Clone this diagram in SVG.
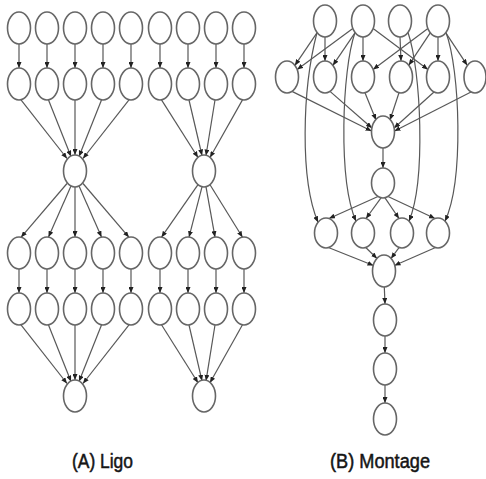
<svg xmlns="http://www.w3.org/2000/svg" width="486" height="479" viewBox="0 0 486 479">
  <style>
    .n { fill: #ffffff; stroke: #666666; stroke-width: 1.6; }
    .e { fill: none; stroke: #585858; stroke-width: 1.2; marker-end: url(#arrow); }
    .lbl { font-family: "Liberation Sans", Arial, sans-serif; font-size: 20px; fill: #151515; stroke: #151515; stroke-width: 0.5; }
  </style>
  <defs>
    <marker id="arrow" viewBox="0 0 6 5" refX="6" refY="2.5" markerWidth="6" markerHeight="5" markerUnits="userSpaceOnUse" orient="auto">
      <path d="M0,0 L6,2.5 L0,5 z" fill="#222222"/>
    </marker>
  </defs>
  <rect width="486" height="479" fill="#ffffff"/>

  <!-- connectors -->
  <g id="edges">
    <!-- Ligo, left pipeline -->
    <path class="e" d="M19,44 L19,68"/>
    <path class="e" d="M47,44 L47,68"/>
    <path class="e" d="M75,44 L75,68"/>
    <path class="e" d="M103,44 L103,68"/>
    <path class="e" d="M131,44 L131,68"/>
    <path class="e" d="M21,99.8 L67,158.5"/>
    <path class="e" d="M48.5,100 L71,156.5"/>
    <path class="e" d="M75,100 L75,155"/>
    <path class="e" d="M101.5,100 L79,156.5"/>
    <path class="e" d="M129,99.8 L83,158.5"/>
    <path class="e" d="M67,183.5 L21,237.3"/>
    <path class="e" d="M71,186 L48.5,237.1"/>
    <path class="e" d="M75,187 L75,237"/>
    <path class="e" d="M79,186 L101.5,237.1"/>
    <path class="e" d="M83,183.5 L129,237.3"/>
    <path class="e" d="M19,269 L19,293"/>
    <path class="e" d="M47,269 L47,293"/>
    <path class="e" d="M75,269 L75,293"/>
    <path class="e" d="M103,269 L103,293"/>
    <path class="e" d="M131,269 L131,293"/>
    <path class="e" d="M21,324.8 L67,383.5"/>
    <path class="e" d="M48.5,325 L71,381.5"/>
    <path class="e" d="M75,325 L75,380"/>
    <path class="e" d="M101.5,325 L79,381.5"/>
    <path class="e" d="M129,324.8 L83,383.5"/>
    <!-- Ligo, right pipeline -->
    <path class="e" d="M160,44 L160,68"/>
    <path class="e" d="M188,44 L188,68"/>
    <path class="e" d="M216,44 L216,68"/>
    <path class="e" d="M244,44 L244,68"/>
    <path class="e" d="M161.5,99.9 L198,157.5"/>
    <path class="e" d="M189,100 L202,155.5"/>
    <path class="e" d="M215,100 L206,155.5"/>
    <path class="e" d="M242.5,99.9 L210,157.5"/>
    <path class="e" d="M198,184.7 L161.5,237.2"/>
    <path class="e" d="M202,186.8 L189,237.1"/>
    <path class="e" d="M206,186.8 L215,237.1"/>
    <path class="e" d="M210,184.7 L242.5,237.2"/>
    <path class="e" d="M160,269 L160,293"/>
    <path class="e" d="M188,269 L188,293"/>
    <path class="e" d="M216,269 L216,293"/>
    <path class="e" d="M244,269 L244,293"/>
    <path class="e" d="M161.5,324.8 L198,382.7"/>
    <path class="e" d="M189,325 L202,380.8"/>
    <path class="e" d="M215,325 L206,380.8"/>
    <path class="e" d="M242.5,324.8 L210,382.7"/>

    <!-- Montage: projections to difference fits -->
    <path class="e" d="M317.1,32.6 L294.9,65.4"/>
    <path class="e" d="M352.8,28.5 L297.2,69.5"/>
    <path class="e" d="M325,37 L325,61"/>
    <path class="e" d="M355.1,32.6 L332.9,65.4"/>
    <path class="e" d="M363,37 L363,61"/>
    <path class="e" d="M427.9,28.6 L373.1,69.4"/>
    <path class="e" d="M400,37 L401,61"/>
    <path class="e" d="M430.2,32.8 L408.8,65.2"/>
    <path class="e" d="M373.1,28.6 L427.9,69.4"/>
    <path class="e" d="M438,37 L438,61"/>
    <path class="e" d="M445.8,32.8 L467.2,65.2"/>
    <!-- Montage: projections to background correction -->
    <path class="e" d="M317,32.5 C302,90 300,180 318,222.3"/>
    <path class="e" d="M355,32.5 C342,70 338,180 356,221.2"/>
    <path class="e" d="M408,32.5 C421,70 426,180 409,221.2"/>
    <path class="e" d="M446,32.5 C460,70 464,180 445,221.2"/>
    <!-- Montage: difference fits to concat -->
    <path class="e" d="M292,91.4 L371.5,131"/>
    <path class="e" d="M330,91.4 L371.9,128"/>
    <path class="e" d="M365,92.8 L376,120"/>
    <path class="e" d="M399,92.8 L390,120"/>
    <path class="e" d="M434,92 L394.1,128"/>
    <path class="e" d="M471,92 L394.5,131"/>
    <!-- Montage: concat, model, backgrounds -->
    <path class="e" d="M383,148 L383,168"/>
    <path class="e" d="M378,196.5 L329,218.5"/>
    <path class="e" d="M381,197.8 L366,218.5"/>
    <path class="e" d="M385,197.8 L399,218.5"/>
    <path class="e" d="M388,196.5 L435,218.5"/>
    <path class="e" d="M329,247.7 L373.5,265.5"/>
    <path class="e" d="M366,247.7 L377,258.5"/>
    <path class="e" d="M399,247.7 L391,258.5"/>
    <path class="e" d="M435,247.7 L394.5,265.5"/>
    <!-- Montage: final chain -->
    <path class="e" d="M384.3,287 L385,304"/>
    <path class="e" d="M385,336 L385,353"/>
    <path class="e" d="M385,385 L385,403"/>
  </g>

  <!-- Ligo nodes -->
  <g id="ligo-a1"><ellipse class="n" cx="19" cy="28" rx="11.5" ry="16"/></g>
  <g id="ligo-a2"><ellipse class="n" cx="47" cy="28" rx="11.5" ry="16"/></g>
  <g id="ligo-a3"><ellipse class="n" cx="75" cy="28" rx="11.5" ry="16"/></g>
  <g id="ligo-a4"><ellipse class="n" cx="103" cy="28" rx="11.5" ry="16"/></g>
  <g id="ligo-a5"><ellipse class="n" cx="131" cy="28" rx="11.5" ry="16"/></g>
  <g id="ligo-a6"><ellipse class="n" cx="160" cy="28" rx="11.5" ry="16"/></g>
  <g id="ligo-a7"><ellipse class="n" cx="188" cy="28" rx="11.5" ry="16"/></g>
  <g id="ligo-a8"><ellipse class="n" cx="216" cy="28" rx="11.5" ry="16"/></g>
  <g id="ligo-a9"><ellipse class="n" cx="244" cy="28" rx="11.5" ry="16"/></g>

  <g id="ligo-b1"><ellipse class="n" cx="19" cy="84" rx="11.5" ry="16"/></g>
  <g id="ligo-b2"><ellipse class="n" cx="47" cy="84" rx="11.5" ry="16"/></g>
  <g id="ligo-b3"><ellipse class="n" cx="75" cy="84" rx="11.5" ry="16"/></g>
  <g id="ligo-b4"><ellipse class="n" cx="103" cy="84" rx="11.5" ry="16"/></g>
  <g id="ligo-b5"><ellipse class="n" cx="131" cy="84" rx="11.5" ry="16"/></g>
  <g id="ligo-b6"><ellipse class="n" cx="160" cy="84" rx="11.5" ry="16"/></g>
  <g id="ligo-b7"><ellipse class="n" cx="188" cy="84" rx="11.5" ry="16"/></g>
  <g id="ligo-b8"><ellipse class="n" cx="216" cy="84" rx="11.5" ry="16"/></g>
  <g id="ligo-b9"><ellipse class="n" cx="244" cy="84" rx="11.5" ry="16"/></g>

  <g id="ligo-mid1"><ellipse class="n" cx="75" cy="171" rx="11.5" ry="16"/></g>
  <g id="ligo-mid2"><ellipse class="n" cx="204" cy="171" rx="11.5" ry="16"/></g>

  <g id="ligo-c1"><ellipse class="n" cx="19" cy="253" rx="11.5" ry="16"/></g>
  <g id="ligo-c2"><ellipse class="n" cx="47" cy="253" rx="11.5" ry="16"/></g>
  <g id="ligo-c3"><ellipse class="n" cx="75" cy="253" rx="11.5" ry="16"/></g>
  <g id="ligo-c4"><ellipse class="n" cx="103" cy="253" rx="11.5" ry="16"/></g>
  <g id="ligo-c5"><ellipse class="n" cx="131" cy="253" rx="11.5" ry="16"/></g>
  <g id="ligo-c6"><ellipse class="n" cx="160" cy="253" rx="11.5" ry="16"/></g>
  <g id="ligo-c7"><ellipse class="n" cx="188" cy="253" rx="11.5" ry="16"/></g>
  <g id="ligo-c8"><ellipse class="n" cx="216" cy="253" rx="11.5" ry="16"/></g>
  <g id="ligo-c9"><ellipse class="n" cx="244" cy="253" rx="11.5" ry="16"/></g>

  <g id="ligo-d1"><ellipse class="n" cx="19" cy="309" rx="11.5" ry="16"/></g>
  <g id="ligo-d2"><ellipse class="n" cx="47" cy="309" rx="11.5" ry="16"/></g>
  <g id="ligo-d3"><ellipse class="n" cx="75" cy="309" rx="11.5" ry="16"/></g>
  <g id="ligo-d4"><ellipse class="n" cx="103" cy="309" rx="11.5" ry="16"/></g>
  <g id="ligo-d5"><ellipse class="n" cx="131" cy="309" rx="11.5" ry="16"/></g>
  <g id="ligo-d6"><ellipse class="n" cx="160" cy="309" rx="11.5" ry="16"/></g>
  <g id="ligo-d7"><ellipse class="n" cx="188" cy="309" rx="11.5" ry="16"/></g>
  <g id="ligo-d8"><ellipse class="n" cx="216" cy="309" rx="11.5" ry="16"/></g>
  <g id="ligo-d9"><ellipse class="n" cx="244" cy="309" rx="11.5" ry="16"/></g>

  <g id="ligo-end1"><ellipse class="n" cx="75" cy="396" rx="11.5" ry="16"/></g>
  <g id="ligo-end2"><ellipse class="n" cx="204" cy="396" rx="11.5" ry="16"/></g>

  <!-- Montage nodes -->
  <g id="mproject1"><ellipse class="n" cx="325" cy="21" rx="11.5" ry="16"/></g>
  <g id="mproject2"><ellipse class="n" cx="363" cy="21" rx="11.5" ry="16"/></g>
  <g id="mproject3"><ellipse class="n" cx="400" cy="21" rx="11.5" ry="16"/></g>
  <g id="mproject4"><ellipse class="n" cx="438" cy="21" rx="11.5" ry="16"/></g>

  <g id="mdiff1"><ellipse class="n" cx="287" cy="77" rx="11.5" ry="16"/></g>
  <g id="mdiff2"><ellipse class="n" cx="325" cy="77" rx="11.5" ry="16"/></g>
  <g id="mdiff3"><ellipse class="n" cx="363" cy="77" rx="11.5" ry="16"/></g>
  <g id="mdiff4"><ellipse class="n" cx="401" cy="77" rx="11.5" ry="16"/></g>
  <g id="mdiff5"><ellipse class="n" cx="438" cy="77" rx="11.5" ry="16"/></g>
  <g id="mdiff6"><ellipse class="n" cx="475" cy="77" rx="11" ry="16"/></g>

  <g id="mconcat"><ellipse class="n" cx="383" cy="132" rx="11.5" ry="16"/></g>
  <g id="mbgmodel"><ellipse class="n" cx="383" cy="183" rx="11.5" ry="15"/></g>

  <g id="mbackground1"><ellipse class="n" cx="326" cy="233" rx="11.5" ry="15"/></g>
  <g id="mbackground2"><ellipse class="n" cx="363" cy="233" rx="11.5" ry="15"/></g>
  <g id="mbackground3"><ellipse class="n" cx="402" cy="233" rx="11.5" ry="15"/></g>
  <g id="mbackground4"><ellipse class="n" cx="438" cy="233" rx="11.5" ry="15"/></g>

  <g id="mimgtbl"><ellipse class="n" cx="384" cy="271" rx="11.5" ry="16"/></g>
  <g id="madd"><ellipse class="n" cx="385" cy="320" rx="11.5" ry="16"/></g>
  <g id="mshrink"><ellipse class="n" cx="385" cy="369" rx="11.5" ry="16"/></g>
  <g id="mjpeg"><ellipse class="n" cx="385" cy="419" rx="11.5" ry="16"/></g>

  <!-- captions -->
  <text class="lbl" x="72" y="468" textLength="61" lengthAdjust="spacingAndGlyphs">(A) Ligo</text>
  <text class="lbl" x="330" y="468" textLength="100" lengthAdjust="spacingAndGlyphs">(B) Montage</text>
</svg>
